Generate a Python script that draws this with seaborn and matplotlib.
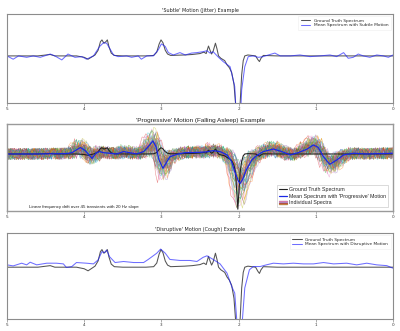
import numpy as np
import pandas as pd
import matplotlib
matplotlib.use("Agg")
import matplotlib.pyplot as plt
from matplotlib.lines import Line2D
from matplotlib.legend_handler import HandlerBase
import seaborn as sns

# ---------------- data ----------------
tick_values = [5, 4, 3, 2, 1, 0]
tick_labels = ["5", "4", "3", "2", "1", "0"]

titles = ["'Subtle' Motion (Jitter) Example",
          "'Progressive' Motion (Falling Asleep) Example",
          "'Disruptive' Motion (Cough) Example"]
gt_label = "Ground Truth Spectrum"
mean_labels = ["Mean Spectrum with Subtle Motion",
               "Mean Spectrum with 'Progressive' Motion",
               "Mean Spectrum with Disruptive Motion"]
indiv_label = "Individual Spectra"
note_text = "Linear frequency drift over 45 transients with 20 Hz slope"

# ground truth spectrum (ppm, intensity)
gt_ppm = [5.0, 4.6, 4.44, 4.38, 4.1, 4.0, 3.95, 3.90, 3.86, 3.82,
          3.79, 3.77, 3.745, 3.72, 3.70, 3.68, 3.65, 3.61, 3.5, 3.2,
          3.1, 3.06, 3.03, 3.005, 2.98, 2.95, 2.92, 2.88, 2.7, 2.6,
          2.5, 2.45, 2.42, 2.39, 2.37, 2.35, 2.33, 2.30, 2.28, 2.26,
          2.23, 2.18, 2.15, 2.12, 2.09, 2.06, 2.04, 2.025, 2.01, 1.995,
          1.98, 1.96, 1.94, 1.92, 1.88, 1.78, 1.75, 1.73, 1.71, 1.68,
          1.5, 1.0, 0.0]
gt_val = [0, 0, 0.03, 0, 0, -0.03, -0.07, -0.02, 0.02, 0.12,
          0.30, 0.34, 0.27, 0.30, 0.34, 0.20, 0.06, 0.01, 0, 0,
          0.01, 0.08, 0.25, 0.34, 0.28, 0.12, 0.04, 0.01, 0.02, 0.03,
          0.05, 0.08, 0.05, 0.21, 0.12, 0.04, 0.10, 0.27, 0.15, 0.0,
          -0.05, -0.10, -0.19, -0.25, -0.35, -0.6, -1.0, -2.0, -3.0, -2.0,
          -1.0, -0.4, -0.1, 0.0, 0.02, 0.0, -0.08, -0.12, -0.05, 0.01,
          0, 0, 0]

# mean spectrum, subtle motion
sub_ppm = [5.0, 4.92, 4.85, 4.745, 4.66, 4.57, 4.44, 4.38, 4.29, 4.21,
           4.12, 4.03, 3.97, 3.88, 3.80, 3.75, 3.71, 3.67, 3.62, 3.56,
           3.45, 3.385, 3.30, 3.26, 3.19, 3.105, 3.04, 3.00, 2.95, 2.91,
           2.845, 2.76, 2.69, 2.61, 2.54, 2.46, 2.41, 2.37, 2.33, 2.26,
           2.20, 2.11, 2.05, 2.02, 1.99, 1.96, 1.92, 1.875, 1.81, 1.745,
           1.68, 1.615, 1.53, 1.46, 1.33, 1.205, 1.075, 0.946, 0.816, 0.73,
           0.64, 0.58, 0.515, 0.45, 0.385, 0.30, 0.21, 0.125, 0.06, 0.0]
sub_val = [0, -0.07, 0, -0.03, 0, -0.03, 0.04, 0, -0.085, 0.04,
           -0.03, -0.015, -0.07, 0, 0.2, 0.28, 0.27, 0.16, 0.02, -0.015,
           0, -0.03, 0, -0.07, 0, 0, 0.13, 0.255, 0.2, 0.07,
           0.02, 0.07, 0.02, 0.06, 0.07, 0.09, 0.11, 0.06, 0.09, -0.03,
           -0.12, -0.23, -0.65, -1.6, -1.8, -0.72, -0.23, -0.015, 0, -0.03,
           -0.015, 0.02, 0.06, 0, 0, 0.02, -0.015, 0, 0.02, -0.015,
           0.07, -0.05, -0.03, 0.04, 0, -0.03, 0.02, 0, -0.03, 0.02]

# mean spectrum, progressive motion
prog_ppm = [5.0, 4.66, 4.23, 4.16, 4.05, 3.99, 3.90, 3.84, 3.80, 3.75,
            3.67, 3.58, 3.49, 3.41, 3.32, 3.23, 3.17, 3.11, 3.07, 3.03,
            2.98, 2.94, 2.89, 2.80, 2.70, 2.50, 2.41, 2.33, 2.24, 2.15,
            2.09, 2.05, 2.00, 1.98, 1.95, 1.90, 1.83, 1.77, 1.68, 1.55,
            1.44, 1.33, 1.23, 1.12, 1.03, 0.97, 0.90, 0.82, 0.73, 0.64,
            0.515, 0.34, 0.0]
prog_val = [0, 0, 0.02, 0.07, 0.35, 0.2, -0.24, 0.07, 0.13, 0.07,
            0.04, 0, 0.13, 0.07, 0, 0.13, 0.4, 0.71, 0.4, -0.33,
            -0.78, -0.5, -0.15, -0.02, 0.07, 0.09, 0.12, 0.18, 0.13, -0.05,
            -0.42, -0.96, -1.5, -1.6, -1.4, -0.87, -0.33, -0.1, 0.13, 0.27,
            0.13, -0.05, 0.07, 0.25, 0.49, 0.36, -0.15, -0.56, -0.33, -0.05,
            0.04, 0, 0.04]

# mean spectrum, disruptive motion
dis_ppm = [5.0, 4.92, 4.81, 4.745, 4.70, 4.615, 4.485, 4.36, 4.27, 4.23,
           4.16, 4.10, 3.97, 3.88, 3.82, 3.77, 3.74, 3.71, 3.67, 3.60,
           3.49, 3.36, 3.23, 3.17, 3.06, 3.01, 2.95, 2.89, 2.76, 2.63,
           2.54, 2.46, 2.41, 2.33, 2.24, 2.15, 2.09, 2.05, 2.02, 1.99,
           1.96, 1.92, 1.86, 1.81, 1.72, 1.64, 1.55, 1.42, 1.29, 1.16,
           1.03, 0.90, 0.77, 0.60, 0.47, 0.34, 0.21, 0.08, 0.0]
dis_val = [0.045, 0.025, 0.077, 0.045, 0.096, 0.045, 0.077, 0.077, 0.064, -0.006,
           0.013, 0.09, 0.077, 0.064, 0.14, 0.30, 0.28, 0.33, 0.2, 0.09,
           0.11, 0.09, 0.09, 0.15, 0.27, 0.35, 0.27, 0.15, 0.13, 0.13,
           0.11, 0.19, 0.22, 0.15, 0.064, -0.115, -0.37, -0.5, -1.1, -1.8,
           -1.2, -0.4, -0.05, 0.013, 0.013, 0.045, 0.077, 0.064, 0.077, 0.064,
           0.064, 0.09, 0.064, 0.077, 0.045, 0.077, 0.045, 0.03, -0.02]

# individual transients: drift (Hz), amplitude spread and a noise trace
drift_hz = [-10.0, -9.5, -9.1, -8.6, -8.2, -7.7, -7.3, -6.8, -6.4, -5.9,
            -5.5, -5.0, -4.5, -4.1, -3.6, -3.2, -2.7, -2.3, -1.8, -1.4,
            -0.9, -0.5, 0.0, 0.5, 0.9, 1.4, 1.8, 2.3, 2.7, 3.2,
            3.6, 4.1, 4.5, 5.0, 5.5, 5.9, 6.4, 6.8, 7.3, 7.7,
            8.2, 8.6, 9.1, 9.5, 10.0]
transient_gain = [0.6, 1.4, 0.9, 1.8, 0.7, 1.2, 1.6, 0.8, 1.0, 1.5,
                  0.5, 1.3, 1.7, 0.9, 1.1, 0.7, 1.9, 1.0, 0.6, 1.4,
                  1.2, 0.8, 1.6, 1.0, 1.3, 0.7, 1.5, 0.9, 1.8, 1.1,
                  0.6, 1.2, 1.4, 0.8, 1.7, 1.0, 0.5, 1.3, 1.6, 0.9,
                  1.1, 1.5, 0.7, 1.2, 1.0]
noise_trace = [0.3, -0.5, 0.8, -0.2, -0.9, 0.4, 0.7, -0.6, 0.1, 0.9,
               -0.3, -0.8, 0.5, 0.2, -0.4, 0.6, -0.7, 0.9, -0.1, -0.6,
               0.3, 0.8, -0.9, 0.0, 0.5, -0.3, 0.7, -0.8, 0.2, 0.6,
               -0.5, -0.1, 0.9, -0.4, 0.4, -0.9, 0.1, 0.7, -0.2, -0.7,
               0.6, 0.3, -0.6, 0.8, -0.3, 0.0, -0.8, 0.5, 0.9, -0.5,
               0.2, -0.2, 0.6, -0.9, 0.4, 0.1, -0.4, 0.8, -0.7, 0.3,
               0.7, -0.1, -0.5, 0.9, -0.6, 0.2, 0.5, -0.8, 0.0, 0.6,
               -0.3, -0.7, 0.8, 0.1, -0.2, 0.4, -0.9, 0.7, -0.4, 0.3,
               0.9, -0.6, -0.1, 0.5, -0.5, 0.2, 0.8, -0.8, 0.6, -0.3,
               0.1, -0.7, 0.4, 0.7, -0.2, -0.9, 0.5, 0.3, -0.4, 0.9, -0.5]
spectrometer_mhz = 127.7

# ---------------- style ----------------
sns.set_theme(style="white")
plt.rcParams["font.family"] = ["DejaVu Sans"]
FRAME = "#8c8c8c"
ARIAL = ["Liberation Sans", "DejaVu Sans"]

fig = plt.figure(figsize=(4.0, 3.31), dpi=100)
W, H = 400.0, 331.0


def make_ax(top, bottom, left=7, right=393):
    return fig.add_axes([left / W, 1 - bottom / H, (right - left) / W, (bottom - top) / H])


ax1 = make_ax(14, 103)
ax2 = make_ax(124, 211)
ax3 = make_ax(233, 319)


def style_ax(ax, ylim, frame=FRAME, lw=0.8):
    ax.set_xlim(5, 0)
    ax.set_ylim(*ylim)
    ax.set_xticks(tick_values)
    ax.set_xticklabels(tick_labels)
    ax.set_yticks([])
    ax.tick_params(axis="x", length=2.2, width=0.5, labelsize=3, pad=1,
                   color=frame, labelcolor="#333333", bottom=True)
    for s in ax.spines.values():
        s.set_color(frame)
        s.set_linewidth(lw)
    ax.set_xlabel("")
    ax.set_ylabel("")


def small_legend(ax):
    leg = ax.legend(loc="upper right", fontsize=3.1, labelspacing=0.1, handlelength=2.2,
                    handletextpad=0.8, borderpad=0.6, frameon=True, edgecolor="#eeeeee",
                    framealpha=1, fancybox=False)
    leg.get_frame().set_linewidth(0.4)


# ---- panel 1 ----
sns.lineplot(x=gt_ppm, y=gt_val, ax=ax1, color="k", alpha=0.75, lw=0.75, label=gt_label)
sns.lineplot(x=sub_ppm, y=sub_val, ax=ax1, color="#2020ff", alpha=0.65, lw=0.75, label=mean_labels[0])
style_ax(ax1, (-1.0, 0.89))
ax1.set_title(titles[0], fontsize=3.5, pad=1.5, color="#222222")
small_legend(ax1)

# ---- panel 2 ----
palette10 = sns.color_palette("tab10")
grid = np.linspace(5, 0, 201)
asc_ppm = np.array(prog_ppm[::-1])
asc_val = np.array(prog_val[::-1])
noise_arr = np.array(noise_trace)
rows = []
for k, hz in enumerate(drift_hz):
    shifted = np.interp(grid + hz / spectrometer_mhz, asc_ppm, asc_val)
    idx = (np.arange(len(grid)) * (k % 6 + 2) + 11 * k) % len(noise_trace)
    vals = shifted * transient_gain[k] + 0.34 * noise_arr[idx]
    rows.append(pd.DataFrame({"ppm": grid, "val": vals, "transient": k}))
indiv = pd.concat(rows, ignore_index=True)
sns.lineplot(data=indiv, x="ppm", y="val", hue="transient", ax=ax2,
             palette=[palette10[k % 10] for k in range(len(drift_hz))],
             lw=0.4, alpha=0.5, legend=False, estimator=None)
sns.lineplot(x=gt_ppm, y=gt_val, ax=ax2, color="#222222", lw=0.8, label=gt_label)
sns.lineplot(x=prog_ppm, y=prog_val, ax=ax2, color="#1a28e6", lw=0.9, label=mean_labels[1])
style_ax(ax2, (-3.1, 1.63), frame="#9a9a9a", lw=1.0)
ax2.set_title(titles[1], fontsize=4.6, pad=1.5, family=ARIAL, color="#222222")
ax2.text(0.057, 0.025, note_text, transform=ax2.transAxes, fontsize=3.2,
         family=ARIAL, color="#222222", va="bottom")


class SpectraStack:
    pass


class StackHandler(HandlerBase):
    def create_artists(self, legend, orig_handle, xdescent, ydescent, width,
                       height, fontsize, trans):
        arts = []
        n = 7
        for j in range(n):
            y = -ydescent + height * (j + 0.5) / n
            arts.append(Line2D([-xdescent, -xdescent + width], [y, y],
                               color=palette10[j], lw=0.9, alpha=0.7, transform=trans))
        return arts


h_gt = Line2D([], [], color="#222222", lw=0.8)
h_mean = Line2D([], [], color="#1a28e6", lw=0.9)
leg2 = ax2.legend([h_gt, h_mean, SpectraStack()], [gt_label, mean_labels[1], indiv_label],
                  handler_map={SpectraStack: StackHandler()}, loc="lower right",
                  prop={"family": ARIAL, "size": 3.8},
                  labelspacing=0.3, handlelength=1.6, handletextpad=0.4, borderpad=0.4,
                  frameon=True, edgecolor="#cccccc", framealpha=1, fancybox=False,
                  bbox_to_anchor=(0.995, 0.01))
leg2.get_frame().set_linewidth(0.5)

# ---- panel 3 ----
sns.lineplot(x=gt_ppm, y=gt_val, ax=ax3, color="k", alpha=0.75, lw=0.75, label=gt_label)
sns.lineplot(x=dis_ppm, y=dis_val, ax=ax3, color="#2020ff", alpha=0.65, lw=0.75, label=mean_labels[2])
style_ax(ax3, (-1.0, 0.66))
ax3.set_title(titles[2], fontsize=3.5, pad=1.5, color="#222222")
small_legend(ax3)

fig.savefig("out.png", dpi=100)
